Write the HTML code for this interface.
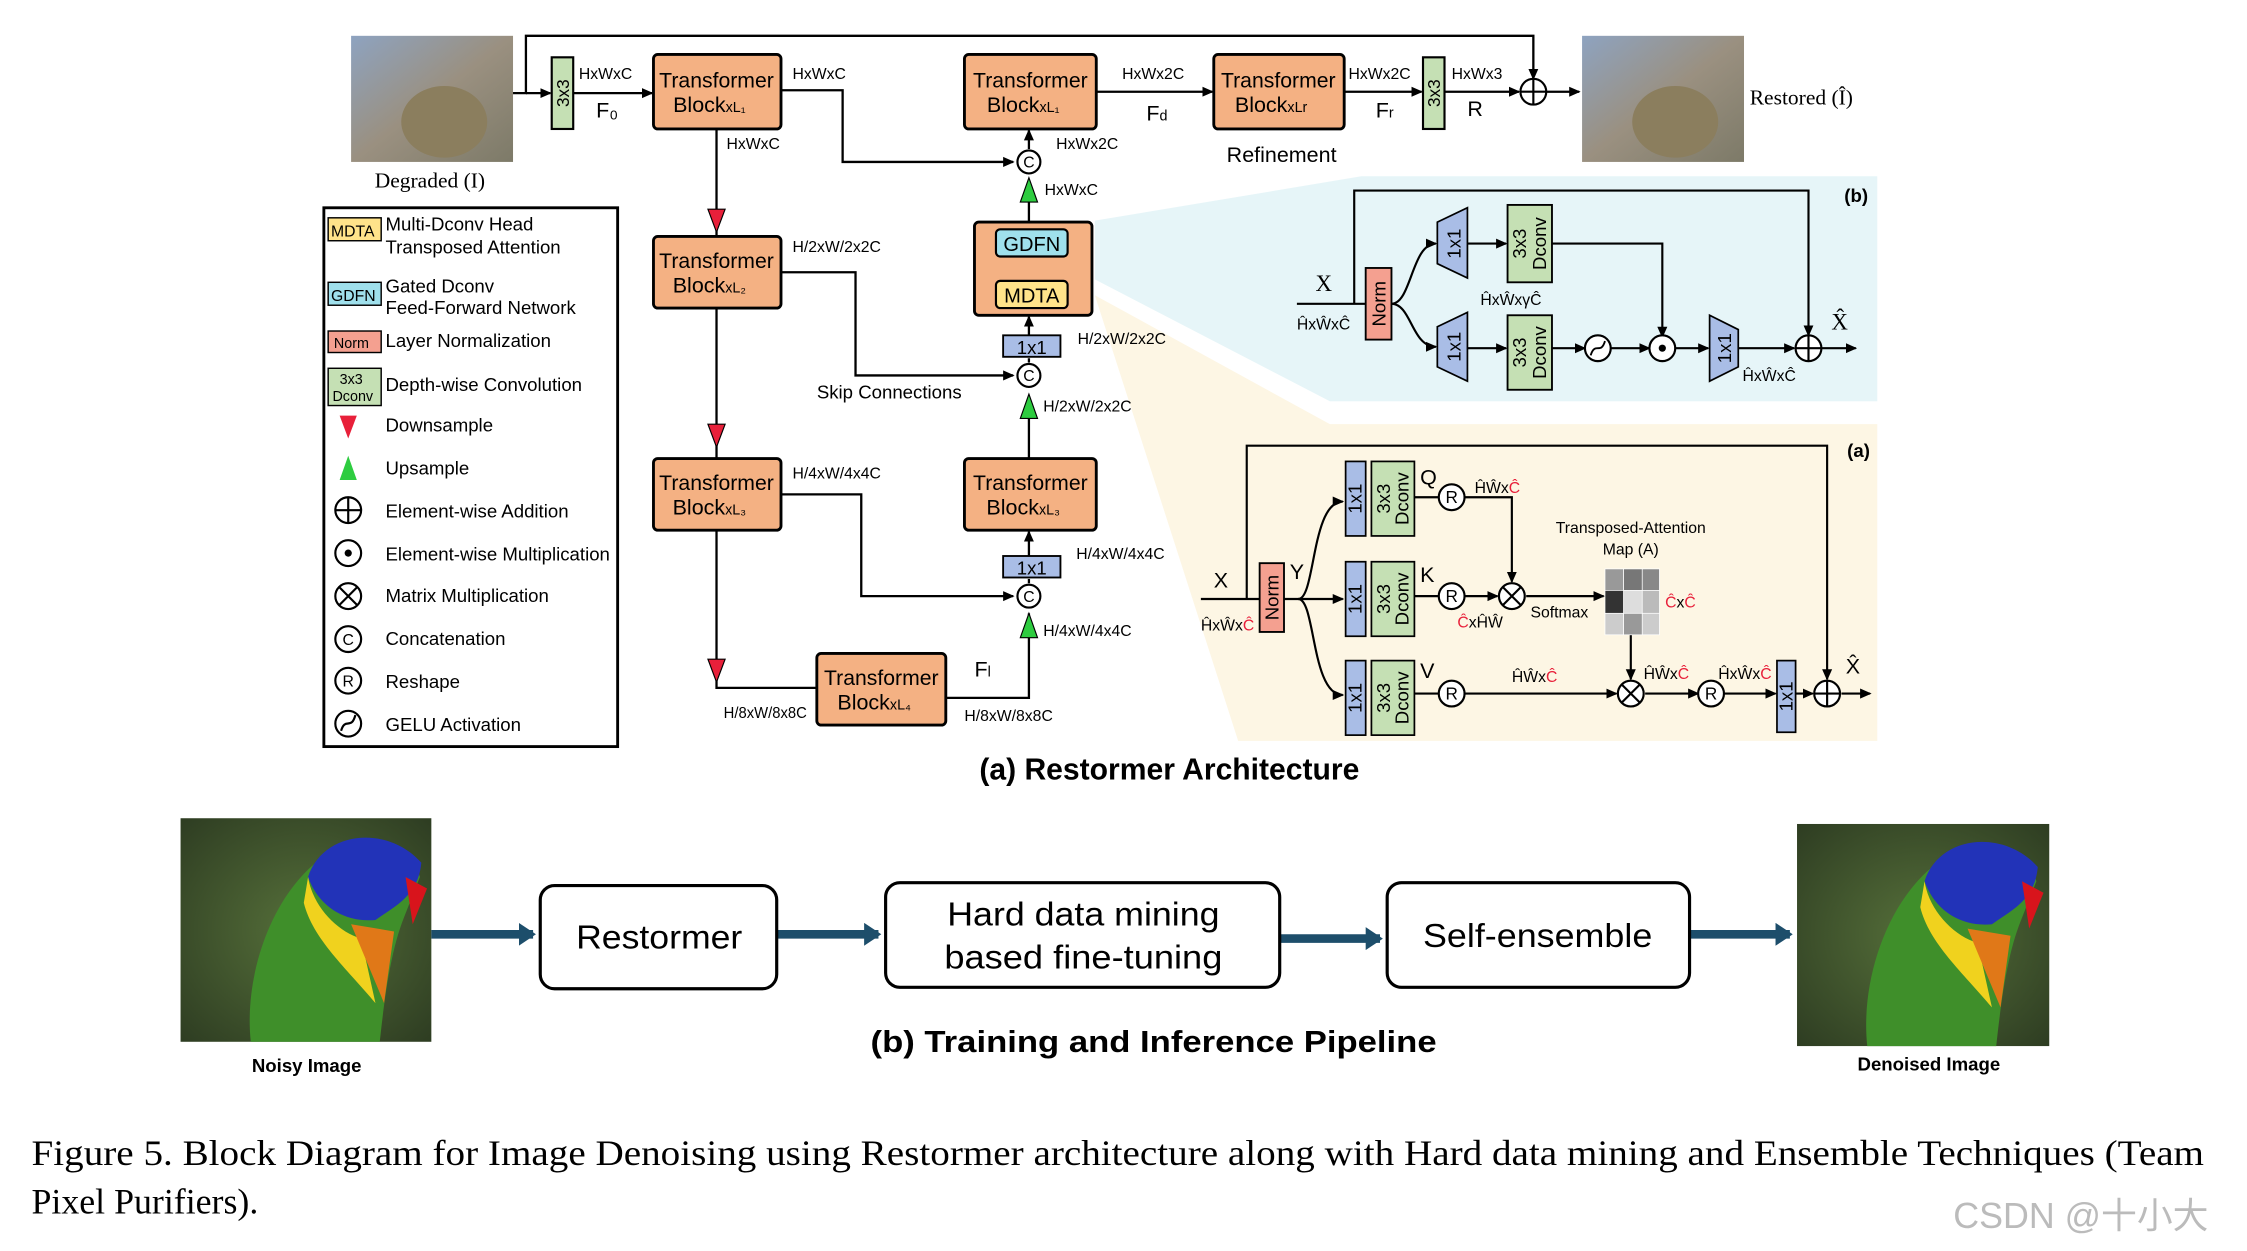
<!DOCTYPE html>
<html><head><meta charset="utf-8"><style>
html,body{margin:0;padding:0;background:#fff;}
svg{display:block;}
text{font-family:"Liberation Sans",sans-serif;}
.s{font-family:"Liberation Serif",serif;}
</style></head><body>
<svg width="2247" height="1251" viewBox="0 0 1568 873" preserveAspectRatio="none" xmlns="http://www.w3.org/2000/svg">
<defs>
<marker id="a" markerWidth="8" markerHeight="8" refX="7" refY="4" orient="auto" markerUnits="userSpaceOnUse"><path d="M0,0.5 L8,4 L0,7.5 Z" fill="#000"/></marker>
<marker id="t" markerWidth="12" markerHeight="16" refX="10" refY="8" orient="auto" markerUnits="userSpaceOnUse"><path d="M0,0 L12,8 L0,16 Z" fill="#1d4e6b"/></marker>
<linearGradient id="deg" x1="0" y1="0" x2="1" y2="1"><stop offset="0" stop-color="#8ea3c0"/><stop offset="0.5" stop-color="#9a9080"/><stop offset="1" stop-color="#7d7a68"/></linearGradient>
<radialGradient id="bg1" cx="0.5" cy="0.5" r="0.7"><stop offset="0" stop-color="#56703a"/><stop offset="1" stop-color="#2e3d22"/></radialGradient>
</defs>

<polygon points="764,154 950,123 1310,123 1310,280 928,280 764,195" fill="#e6f5f8"/>
<polygon points="764,206 928,296 1310,296 1310,517 864,517" fill="#fdf6e4"/>

<rect x="245" y="25" width="113" height="88" fill="url(#deg)"/>
<ellipse cx="310" cy="85" rx="30" ry="25" fill="#8b7e5e"/>
<rect x="1104" y="25" width="113" height="88" fill="url(#deg)"/>
<ellipse cx="1169" cy="85" rx="30" ry="25" fill="#8b7e5e"/>
<text x="300" y="131" font-size="15" text-anchor="middle" class="s">Degraded (I)</text>
<text x="1221" y="73" font-size="15" class="s">Restored (Î)</text>

<g stroke="#000" stroke-width="1.6" fill="none">
<polyline points="358,65 367,65 367,25 1070,25 1070,55" marker-end="url(#a)"/>
<line x1="367" y1="65" x2="384" y2="65" marker-end="url(#a)"/>
<line x1="400" y1="65" x2="455" y2="65" marker-end="url(#a)"/>
<polyline points="545,63 588,63 588,113 707,113" marker-end="url(#a)"/>
<line x1="765" y1="64" x2="846" y2="64" marker-end="url(#a)"/>
<line x1="938" y1="64" x2="992" y2="64" marker-end="url(#a)"/>
<line x1="1008" y1="64" x2="1060" y2="64" marker-end="url(#a)"/>
<line x1="1079" y1="64" x2="1102" y2="64" marker-end="url(#a)"/>
<line x1="500" y1="90" x2="500" y2="165"/>
<line x1="500" y1="215" x2="500" y2="320"/>
<polyline points="500,370 500,480 570,480"/>
<polyline points="545,190 597,190 597,262 707,262" marker-end="url(#a)"/>
<polyline points="545,345 601,345 601,416 707,416" marker-end="url(#a)"/>
<polyline points="660,487 718,487 718,428"/>
<line x1="718" y1="407" x2="718" y2="404" />
<line x1="718" y1="388" x2="718" y2="371" marker-end="url(#a)"/>
<line x1="718" y1="320" x2="718" y2="292"/>
<line x1="718" y1="253" x2="718" y2="250"/>
<line x1="718" y1="234" x2="718" y2="221" marker-end="url(#a)"/>
<line x1="718" y1="155" x2="718" y2="141"/>
<line x1="718" y1="104" x2="718" y2="91" marker-end="url(#a)"/>
<line x1="718" y1="194" x2="718" y2="181" marker-end="url(#a)"/>
</g>

<rect x="385" y="40" width="15" height="50" fill="#c5e0b4" stroke="#000" stroke-width="1.5"/>
<text transform="translate(397,65) rotate(-90)" font-size="12" text-anchor="middle">3x3</text>
<rect x="993" y="40" width="15" height="50" fill="#c5e0b4" stroke="#000" stroke-width="1.5"/>
<text transform="translate(1005,65) rotate(-90)" font-size="12" text-anchor="middle">3x3</text>

<g fill="#f4b183" stroke="#000" stroke-width="2">
<rect x="456" y="38" width="89" height="52" rx="3"/>
<rect x="673" y="38" width="92" height="52" rx="3"/>
<rect x="847" y="38" width="91" height="52" rx="3"/>
<rect x="456" y="165" width="89" height="50" rx="3"/>
<rect x="456" y="320" width="89" height="50" rx="3"/>
<rect x="673" y="320" width="92" height="50" rx="3"/>
<rect x="570" y="456" width="90" height="50" rx="3"/>
<rect x="680" y="155" width="82" height="65" rx="3"/>
</g>
<g font-size="15" text-anchor="middle">
<text x="500" y="61" textLength="80" lengthAdjust="spacingAndGlyphs">Transformer</text><text x="495" y="78">Block<tspan font-size="10">xL₁</tspan></text>
<text x="719" y="61" textLength="80" lengthAdjust="spacingAndGlyphs">Transformer</text><text x="714" y="78">Block<tspan font-size="10">xL₁</tspan></text>
<text x="892" y="61" textLength="80" lengthAdjust="spacingAndGlyphs">Transformer</text><text x="887" y="78">Block<tspan font-size="10">xLr</tspan></text>
<text x="500" y="187" textLength="80" lengthAdjust="spacingAndGlyphs">Transformer</text><text x="495" y="204">Block<tspan font-size="10">xL₂</tspan></text>
<text x="500" y="342" textLength="80" lengthAdjust="spacingAndGlyphs">Transformer</text><text x="495" y="359">Block<tspan font-size="10">xL₃</tspan></text>
<text x="719" y="342" textLength="80" lengthAdjust="spacingAndGlyphs">Transformer</text><text x="714" y="359">Block<tspan font-size="10">xL₃</tspan></text>
<text x="615" y="478" textLength="80" lengthAdjust="spacingAndGlyphs">Transformer</text><text x="610" y="495">Block<tspan font-size="10">xL₄</tspan></text>
</g>
<rect x="695" y="160" width="50" height="19" rx="3" fill="#9fe0ec" stroke="#000" stroke-width="1.5"/>
<text x="720" y="175" font-size="14" text-anchor="middle">GDFN</text>
<rect x="695" y="196" width="50" height="19" rx="3" fill="#ffe38a" stroke="#000" stroke-width="1.5"/>
<text x="720" y="211" font-size="14" text-anchor="middle">MDTA</text>
<rect x="700" y="234" width="40" height="15" fill="#a9bde6" stroke="#000" stroke-width="1.3"/>
<text x="720" y="247" font-size="13" text-anchor="middle">1x1</text>
<rect x="700" y="388" width="40" height="15" fill="#a9bde6" stroke="#000" stroke-width="1.3"/>
<text x="720" y="401" font-size="13" text-anchor="middle">1x1</text>

<g fill="#fff" stroke="#000" stroke-width="1.5">
<circle cx="718" cy="113" r="8"/><circle cx="718" cy="262" r="8"/><circle cx="718" cy="416" r="8"/>
<circle cx="1070" cy="64" r="9"/>
</g>
<g font-size="11" text-anchor="middle"><text x="718" y="117">C</text><text x="718" y="266">C</text><text x="718" y="420">C</text></g>
<path d="M1061,64 H1079 M1070,55 V73" stroke="#000" stroke-width="1.5"/>
<g fill="#2ecc40" stroke="#000" stroke-width="0.8">
<path d="M718,124 L712,141 L724,141 Z"/><path d="M718,275 L712,292 L724,292 Z"/><path d="M718,428 L712,445 L724,445 Z"/>
</g>
<g fill="#e8203a" stroke="#000" stroke-width="0.8">
<path d="M494,146 L506,146 L500,162 Z"/><path d="M494,296 L506,296 L500,312 Z"/><path d="M494,460 L506,460 L500,476 Z"/>
</g>

<g font-size="11">
<text x="404" y="55">HxWxC</text><text x="553" y="55">HxWxC</text><text x="507" y="104">HxWxC</text>
<text x="783" y="55">HxWx2C</text><text x="941" y="55">HxWx2C</text><text x="1013" y="55">HxWx3</text>
<text x="737" y="104">HxWx2C</text><text x="729" y="136">HxWxC</text>
<text x="553" y="176">H/2xW/2x2C</text><text x="752" y="240">H/2xW/2x2C</text><text x="728" y="287">H/2xW/2x2C</text>
<text x="553" y="334">H/4xW/4x4C</text><text x="751" y="390">H/4xW/4x4C</text><text x="728" y="444">H/4xW/4x4C</text>
<text x="505" y="501" textLength="58" lengthAdjust="spacingAndGlyphs">H/8xW/8x8C</text><text x="673" y="503">H/8xW/8x8C</text>
</g>
<text x="570" y="278" font-size="13">Skip Connections</text>
<text x="856" y="113" font-size="15">Refinement</text>
<g class="s" font-size="15">
<text x="416" y="82">F₀</text><text x="800" y="84">F<tspan font-size="10">d</tspan></text>
<text x="960" y="82">F<tspan font-size="10">r</tspan></text><text x="1024" y="81">R</text>
<text x="680" y="472">F<tspan font-size="10">l</tspan></text>
</g>

<rect x="226" y="145" width="205" height="376" fill="#fff" stroke="#000" stroke-width="2"/>
<g font-size="13">
<rect x="229" y="152" width="37" height="16" fill="#ffe38a" stroke="#000"/><text x="231" y="165" font-size="11">MDTA</text>
<text x="269" y="161">Multi-Dconv Head</text><text x="269" y="177">Transposed Attention</text>
<rect x="229" y="197" width="37" height="16" fill="#9fe0ec" stroke="#000"/><text x="231" y="210" font-size="11">GDFN</text>
<text x="269" y="204">Gated Dconv</text><text x="269" y="219">Feed-Forward Network</text>
<rect x="229" y="231" width="37" height="15" fill="#f4a090" stroke="#000"/><text x="233" y="243" font-size="10">Norm</text>
<text x="269" y="242">Layer Normalization</text>
<rect x="229" y="257" width="37" height="26" fill="#c5e0b4" stroke="#000"/><text x="237" y="268" font-size="10">3x3</text><text x="232" y="280" font-size="10">Dconv</text>
<text x="269" y="273">Depth-wise Convolution</text>
<path d="M237,290 L249,290 L243,306 Z" fill="#e8203a"/><text x="269" y="301">Downsample</text>
<path d="M243,318 L237,335 L249,335 Z" fill="#2ecc40"/><text x="269" y="331">Upsample</text>
<text x="269" y="361">Element-wise Addition</text>
<text x="269" y="391">Element-wise Multiplication</text>
<text x="269" y="420">Matrix Multiplication</text>
<text x="269" y="450">Concatenation</text>
<text x="269" y="480">Reshape</text>
<text x="269" y="510">GELU Activation</text>
</g>
<g fill="none" stroke="#000" stroke-width="1.5">
<circle cx="243" cy="356" r="9"/><path d="M234,356 H252 M243,347 V365"/>
<circle cx="243" cy="386" r="9"/>
<circle cx="243" cy="416" r="9"/><path d="M237,410 L249,422 M249,410 L237,422"/>
<circle cx="243" cy="446" r="9"/><circle cx="243" cy="475" r="9"/><circle cx="243" cy="505" r="9"/>
<path d="M238,510 C241,500 245,510 248,499"/>
</g>
<circle cx="243" cy="386" r="2.5" fill="#000"/>
<text x="243" y="450" font-size="11" text-anchor="middle">C</text><text x="243" y="479" font-size="11" text-anchor="middle">R</text>

<text x="1287" y="141" font-size="13" font-weight="bold">(b)</text>
<g stroke="#000" stroke-width="1.5" fill="none">
<line x1="905" y1="212" x2="953" y2="212"/>
<polyline points="945,212 945,133 1262,133 1262,234" marker-end="url(#a)"/>
<path d="M971,212 C985,212 985,170 1002,170" marker-end="url(#a)"/>
<path d="M971,212 C985,212 985,242 1002,242" marker-end="url(#a)"/>
<line x1="1024" y1="170" x2="1051" y2="170" marker-end="url(#a)"/>
<line x1="1024" y1="243" x2="1051" y2="243" marker-end="url(#a)"/>
<polyline points="1083,170 1160,170 1160,235" marker-end="url(#a)"/>
<line x1="1083" y1="243" x2="1106" y2="243" marker-end="url(#a)"/>
<line x1="1124" y1="243" x2="1151" y2="243" marker-end="url(#a)"/>
<line x1="1169" y1="243" x2="1192" y2="243" marker-end="url(#a)"/>
<line x1="1213" y1="243" x2="1252" y2="243" marker-end="url(#a)"/>
<line x1="1271" y1="243" x2="1295" y2="243" marker-end="url(#a)"/>
</g>
<rect x="953" y="187" width="18" height="50" fill="#f4a090" stroke="#000" stroke-width="1.3"/>
<text transform="translate(967,212) rotate(-90)" font-size="13" text-anchor="middle">Norm</text>
<g fill="#a9bde6" stroke="#000" stroke-width="1.2">
<path d="M1003,155 L1024,145 L1024,194 L1003,184 Z"/>
<path d="M1003,228 L1024,218 L1024,266 L1003,256 Z"/>
<path d="M1193,220 L1213,230 L1213,256 L1193,266 Z"/>
</g>
<g font-size="13" text-anchor="middle">
<text transform="translate(1019,170) rotate(-90)">1x1</text>
<text transform="translate(1019,242) rotate(-90)">1x1</text>
<text transform="translate(1208,243) rotate(-90)">1x1</text>
</g>
<rect x="1052" y="143" width="31" height="54" fill="#c5e0b4" stroke="#000" stroke-width="1.3"/>
<rect x="1052" y="220" width="31" height="52" fill="#c5e0b4" stroke="#000" stroke-width="1.3"/>
<g font-size="13" text-anchor="middle">
<text transform="translate(1065,170) rotate(-90)">3x3</text><text transform="translate(1079,170) rotate(-90)">Dconv</text>
<text transform="translate(1065,246) rotate(-90)">3x3</text><text transform="translate(1079,246) rotate(-90)">Dconv</text>
</g>
<g fill="#fff" stroke="#000" stroke-width="1.5"><circle cx="1115" cy="243" r="9"/><circle cx="1160" cy="243" r="9"/><circle cx="1262" cy="243" r="9"/></g>
<path d="M1110,248 C1113,238 1117,248 1120,238" stroke="#000" fill="none" stroke-width="1.3"/>
<circle cx="1160" cy="243" r="2.5"/>
<path d="M1253,243 H1271 M1262,234 V252" stroke="#000" stroke-width="1.5"/>
<text x="918" y="203" font-size="16" class="s">X</text>
<text x="1278" y="230" font-size="16" class="s">X̂</text>
<g font-size="11"><text x="905" y="230">ĤxŴxĈ</text><text x="1033" y="213">ĤxŴxγĈ</text><text x="1216" y="266">ĤxŴxĈ</text></g>

<text x="1289" y="319" font-size="13" font-weight="bold">(a)</text>
<g stroke="#000" stroke-width="1.5" fill="none">
<line x1="838" y1="418" x2="879" y2="418"/>
<polyline points="870,418 870,311 1275,311 1275,474" marker-end="url(#a)"/>
<line x1="896" y1="418" x2="937" y2="418" marker-end="url(#a)"/>
<path d="M906,418 C918,418 915,350 937,350" marker-end="url(#a)"/>
<path d="M906,418 C918,418 915,485 937,485" marker-end="url(#a)"/>
<line x1="987" y1="347" x2="1004" y2="347"/><line x1="987" y1="416" x2="1004" y2="416"/><line x1="987" y1="484" x2="1004" y2="484"/>
<polyline points="1022,347 1055,347 1055,406" marker-end="url(#a)"/>
<line x1="1022" y1="416" x2="1045" y2="416" marker-end="url(#a)"/>
<line x1="1065" y1="416" x2="1119" y2="416" marker-end="url(#a)"/>
<line x1="1138" y1="443" x2="1138" y2="474" marker-end="url(#a)"/>
<line x1="1022" y1="484" x2="1128" y2="484" marker-end="url(#a)"/>
<line x1="1148" y1="484" x2="1185" y2="484" marker-end="url(#a)"/>
<line x1="1203" y1="484" x2="1239" y2="484" marker-end="url(#a)"/>
<line x1="1253" y1="484" x2="1265" y2="484" marker-end="url(#a)"/>
<line x1="1285" y1="484" x2="1305" y2="484" marker-end="url(#a)"/>
</g>
<rect x="879" y="393" width="17" height="48" fill="#f4a090" stroke="#000" stroke-width="1.3"/>
<text transform="translate(892,417) rotate(-90)" font-size="13" text-anchor="middle">Norm</text>
<g fill="#a9bde6" stroke="#000" stroke-width="1.2">
<rect x="939" y="322" width="14" height="52"/><rect x="939" y="392" width="14" height="52"/><rect x="939" y="461" width="14" height="52"/><rect x="1240" y="461" width="13" height="50"/>
</g>
<g fill="#c5e0b4" stroke="#000" stroke-width="1.2">
<rect x="957" y="322" width="30" height="52"/><rect x="957" y="392" width="30" height="52"/><rect x="957" y="461" width="30" height="52"/>
</g>
<g font-size="13" text-anchor="middle">
<text transform="translate(950,348) rotate(-90)">1x1</text><text transform="translate(950,418) rotate(-90)">1x1</text><text transform="translate(950,487) rotate(-90)">1x1</text><text transform="translate(1251,486) rotate(-90)">1x1</text>
<text transform="translate(970,348) rotate(-90)">3x3</text><text transform="translate(983,348) rotate(-90)">Dconv</text>
<text transform="translate(970,418) rotate(-90)">3x3</text><text transform="translate(983,418) rotate(-90)">Dconv</text>
<text transform="translate(970,487) rotate(-90)">3x3</text><text transform="translate(983,487) rotate(-90)">Dconv</text>
</g>
<g fill="#fff" stroke="#000" stroke-width="1.5">
<circle cx="1013" cy="347" r="9"/><circle cx="1013" cy="416" r="9"/><circle cx="1013" cy="484" r="9"/>
<circle cx="1055" cy="416" r="9"/><circle cx="1138" cy="484" r="9"/><circle cx="1194" cy="484" r="9"/><circle cx="1275" cy="484" r="9"/>
</g>
<g font-size="12" text-anchor="middle"><text x="1013" y="351">R</text><text x="1013" y="420">R</text><text x="1013" y="488">R</text><text x="1194" y="488">R</text></g>
<path d="M1049,410 L1061,422 M1061,410 L1049,422 M1132,478 L1144,490 M1144,478 L1132,490 M1266,484 H1284 M1275,475 V493" stroke="#000" stroke-width="1.5"/>
<g stroke="#fff" stroke-width="0.5">
<rect x="1120" y="397" width="13" height="15" fill="#999"/><rect x="1133" y="397" width="13" height="15" fill="#777"/><rect x="1146" y="397" width="12" height="15" fill="#888"/>
<rect x="1120" y="412" width="13" height="16" fill="#333"/><rect x="1133" y="412" width="13" height="16" fill="#ddd"/><rect x="1146" y="412" width="12" height="16" fill="#bbb"/>
<rect x="1120" y="428" width="13" height="15" fill="#ccc"/><rect x="1133" y="428" width="13" height="15" fill="#999"/><rect x="1146" y="428" width="12" height="15" fill="#ccc"/>
</g>
<g class="s" font-size="15"><text x="847" y="410">X</text><text x="900" y="404">Y</text><text x="991" y="338">Q</text><text x="991" y="406">K</text><text x="991" y="473">V</text><text x="1288" y="470">X̂</text></g>
<g font-size="11">
<text x="838" y="440">ĤxŴx<tspan fill="#e8203a">Ĉ</tspan></text>
<text x="1029" y="344">ĤŴx<tspan fill="#e8203a">Ĉ</tspan></text>
<text x="1017" y="438"><tspan fill="#e8203a">Ĉ</tspan>xĤŴ</text>
<text x="1068" y="431">Softmax</text>
<text x="1138" y="372" text-anchor="middle">Transposed-Attention</text>
<text x="1138" y="387" text-anchor="middle">Map (A)</text>
<text x="1162" y="424"><tspan fill="#e8203a">Ĉ</tspan>x<tspan fill="#e8203a">Ĉ</tspan></text>
<text x="1055" y="476">ĤŴx<tspan fill="#e8203a">Ĉ</tspan></text>
<text x="1147" y="474">ĤŴx<tspan fill="#e8203a">Ĉ</tspan></text>
<text x="1199" y="474">ĤxŴx<tspan fill="#e8203a">Ĉ</tspan></text>
</g>

<text x="816" y="544" font-size="21" font-weight="bold" text-anchor="middle">(a) Restormer Architecture</text>

<rect x="126" y="571" width="175" height="156" fill="url(#bg1)"/>
<path d="M175,727 C170,680 190,620 230,595 C260,580 288,590 293,612 L282,640 C272,665 268,700 265,727 Z" fill="#3f8f2a"/>
<path d="M215,612 C225,580 270,575 294,602 C292,625 276,632 262,642 C240,644 222,632 215,612 Z" fill="#2233b8"/>
<path d="M215,612 C218,632 235,650 252,655 L262,700 C242,676 218,655 212,630 Z" fill="#f0d21e"/>
<path d="M245,645 L275,650 L268,700 Z" fill="#e07818"/>
<path d="M283,612 L298,620 L288,645 Z" fill="#d8141c"/>
<rect x="1254" y="575" width="176" height="155" fill="url(#bg1)"/>
<path d="M1303,730 C1298,683 1318,623 1358,598 C1388,583 1416,593 1421,615 L1410,643 C1400,668 1396,703 1393,730 Z" fill="#3f8f2a"/>
<path d="M1343,615 C1353,583 1398,578 1422,605 C1420,628 1404,635 1390,645 C1368,647 1350,635 1343,615 Z" fill="#2233b8"/>
<path d="M1343,615 C1346,635 1363,653 1380,658 L1390,703 C1370,679 1346,658 1340,633 Z" fill="#f0d21e"/>
<path d="M1373,648 L1403,653 L1396,703 Z" fill="#e07818"/>
<path d="M1411,615 L1426,623 L1416,648 Z" fill="#d8141c"/>

<g stroke="#1d4e6b" stroke-width="6" fill="none">
<line x1="301" y1="652" x2="372" y2="652" marker-end="url(#t)"/>
<line x1="542" y1="652" x2="613" y2="652" marker-end="url(#t)"/>
<line x1="893" y1="655" x2="963" y2="655" marker-end="url(#t)"/>
<line x1="1179" y1="652" x2="1249" y2="652" marker-end="url(#t)"/>
</g>
<g fill="#fff" stroke="#000" stroke-width="2.2">
<rect x="377" y="618" width="165" height="72" rx="10"/>
<rect x="618" y="616" width="275" height="73" rx="10"/>
<rect x="968" y="616" width="211" height="73" rx="10"/>
</g>
<g font-size="23" text-anchor="middle">
<text x="460" y="662" textLength="116" lengthAdjust="spacingAndGlyphs">Restormer</text>
<text x="756" y="646" textLength="190" lengthAdjust="spacingAndGlyphs">Hard data mining</text>
<text x="756" y="676" textLength="194" lengthAdjust="spacingAndGlyphs">based fine-tuning</text>
<text x="1073" y="661" textLength="160" lengthAdjust="spacingAndGlyphs">Self-ensemble</text>
</g>
<text x="805" y="734" font-size="21" font-weight="bold" text-anchor="middle" textLength="395" lengthAdjust="spacingAndGlyphs">(b) Training and Inference Pipeline</text>
<text x="214" y="748" font-size="13" font-weight="bold" text-anchor="middle">Noisy Image</text>
<text x="1346" y="747" font-size="13" font-weight="bold" text-anchor="middle">Denoised Image</text>

<text x="22" y="813" font-size="25" class="s" textLength="1516" lengthAdjust="spacingAndGlyphs">Figure 5. Block Diagram for Image Denoising using Restormer architecture along with Hard data mining and Ensemble Techniques (Team</text>
<text x="22" y="847" font-size="25" class="s">Pixel Purifiers).</text>
<text x="1363" y="857" font-size="25" fill="#bbb" style="font-family:'Liberation Sans','Noto Sans CJK SC',sans-serif">CSDN @十小大</text>
</svg>
</body></html>
